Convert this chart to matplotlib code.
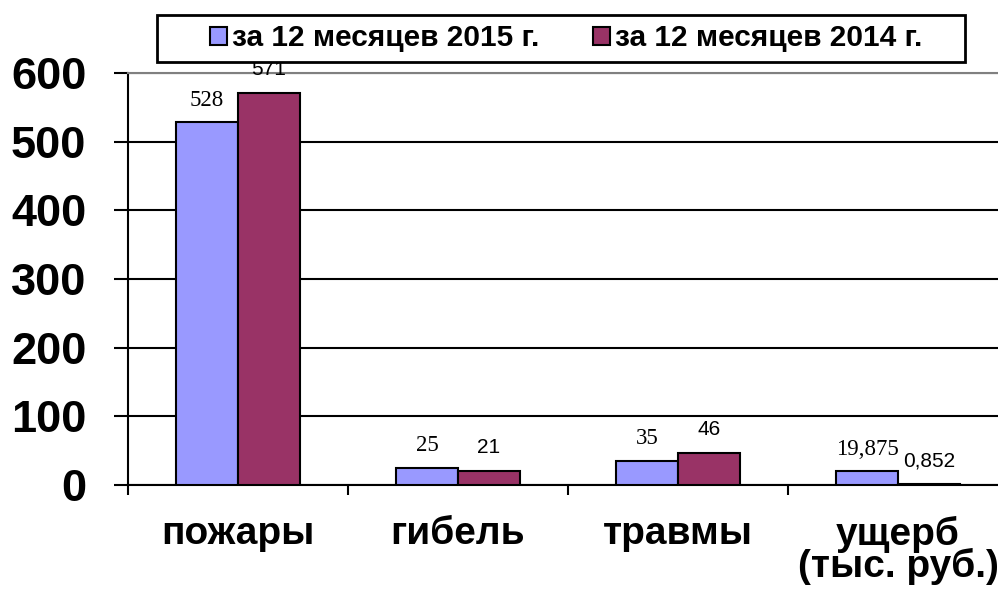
import matplotlib
matplotlib.use('Agg')
import matplotlib.pyplot as plt
from matplotlib.patches import Rectangle
import numpy as np

# data ---------------------------------
categories = ['пожары', 'гибель', 'травмы', 'ущерб\n(тыс. руб.)']
vals_2015 = [528, 25, 35, 19.875]
vals_2014 = [571, 21, 46, 0.852]
labels_2015 = ['528', '25', '35', '19,875']
labels_2014 = ['571', '21', '46', '0,852']
series_names = ['за 12 месяцев 2015 г.', 'за 12 месяцев 2014 г.']
yticks = [0, 100, 200, 300, 400, 500, 600]

blue = '#9999FF'
red = '#993366'

fig = plt.figure(figsize=(9.98, 5.89), dpi=100)
ax = fig.add_axes([128 / 998, 1 - 485 / 589, 880 / 998, 412 / 589])

x = np.arange(len(categories))
w = 0.282
b1 = ax.bar(x - w / 2, vals_2015, w, color=blue, edgecolor='black', linewidth=1.5,
            label=series_names[0], zorder=3)
b2 = ax.bar(x + w / 2, vals_2014, w, color=red, edgecolor='black', linewidth=1.5,
            label=series_names[1], zorder=3)

for rect, txt in zip(b1, labels_2015):
    ax.annotate(txt, (rect.get_x() + rect.get_width() / 2, rect.get_height()),
                xytext=(0, 12), textcoords='offset points', ha='center', va='baseline',
                fontsize=16.5, family='Liberation Serif')
for rect, txt in zip(b2, labels_2014):
    ax.annotate(txt, (rect.get_x() + rect.get_width() / 2, rect.get_height()),
                xytext=(0, 13), textcoords='offset points', ha='center', va='baseline',
                fontsize=15, family='Liberation Sans')

ax.set_xlim(-0.5, len(categories) - 0.5)
ax.set_ylim(0, 600)
ax.set_yticks(yticks)
ax.set_yticklabels([str(v) for v in yticks], fontsize=32.5, fontweight='bold',
                   family='Liberation Sans')
ax.tick_params(axis='y', length=10, width=1.5, pad=20)

# category boundaries as ticks, labels at centers
ax.set_xticks(np.arange(len(categories) + 1) - 0.5)
ax.set_xticklabels([])
ax.set_xticks(x, minor=True)
ax.set_xticklabels(categories, minor=True, fontsize=28, fontweight='bold',
                   family='Liberation Sans', linespacing=0.85)
ax.tick_params(axis='x', which='major', length=7, width=1.5, direction='out')
ax.tick_params(axis='x', which='minor', length=0, pad=22)

ax.yaxis.grid(True, color='black', linewidth=1.5, zorder=0)
ax.set_axisbelow(True)
for s in ['left', 'bottom']:
    ax.spines[s].set_linewidth(1.5)
ax.spines['top'].set_color('#808080')
ax.spines['top'].set_linewidth(1.5)
ax.spines['right'].set_visible(False)

# legend box drawn separately
fig.patches.append(Rectangle((157 / 998, 1 - 62 / 589), 808 / 998, 47 / 589,
                             transform=fig.transFigure, facecolor='white',
                             edgecolor='black', linewidth=2, zorder=5))
leg = fig.legend(loc='center', bbox_to_anchor=(566 / 998, 1 - 38.5 / 589), ncol=2,
                 prop={'family': 'Liberation Sans', 'weight': 'bold', 'size': 21.5},
                 frameon=False, handlelength=0.58, handleheight=0.52, handletextpad=0.15,
                 columnspacing=1.8, borderpad=0, borderaxespad=0)
leg.set_zorder(6)

fig.savefig('out.png', dpi=100)
